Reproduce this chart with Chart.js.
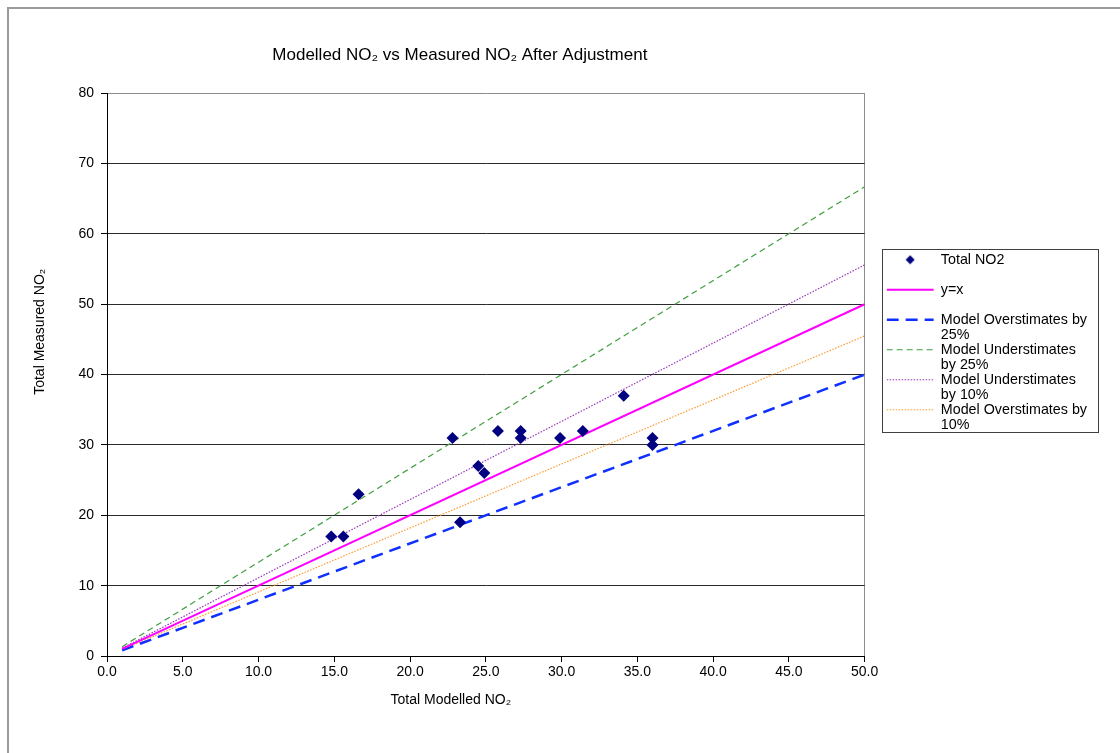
<!DOCTYPE html>
<html>
<head>
<meta charset="utf-8">
<title>Modelled NO2 vs Measured NO2 After Adjustment</title>
<script src="https://cdn.jsdelivr.net/npm/chart.js@4.4.0/dist/chart.umd.min.js"></script>
<style>
  html, body { margin: 0; padding: 0; background: #fff; }
  canvas { display: block; }
</style>
</head>
<body>
<canvas id="myChart" width="1120" height="753"></canvas>
<script>
// valores (um ponto por local de medicao)
var modelledNO2 = [14.8, 15.6, 16.6, 22.8, 23.3, 24.5, 24.9, 25.8, 27.3, 27.3, 29.9, 31.4, 34.1, 36.0, 36.0];
var measuredNO2 = [17, 17, 23, 31, 19, 27, 26, 32, 32, 31, 31, 32, 37, 31, 30];

// retas de referencia: inicio e fim de cada uma
var lineX = [1, 50];
var yEqualsX = [1, 50];
var over25 = [0.8, 40];
var under25 = [1.33, 66.7];
var under10 = [1.11, 55.6];
var over10 = [0.91, 45.5];

var seriesNames = ['Total NO2', 'y=x', 'Model Overstimates by 25%', 'Model Understimates by 25%', 'Model Understimates by 10%', 'Model Overstimates by 10%'];
// texto da legenda quebrado em linhas como no original
var legendLines = [
    ['Total NO2', ''],
    ['y=x', ''],
    ['Model Overstimates by', '25%'],
    ['Model Understimates', 'by 25%'],
    ['Model Understimates', 'by 10%'],
    ['Model Overstimates by', '10%']
];

var xTickLabels = ['0.0', '5.0', '10.0', '15.0', '20.0', '25.0', '30.0', '35.0', '40.0', '45.0', '50.0'];
var yTickLabels = ['0', '10', '20', '30', '40', '50', '60', '70', '80'];

var fonte = "'Liberation Sans', Arial, sans-serif";

function pares(xs, ys) {
    return xs.map(function (x, i) { return {x: x, y: ys[i]}; });
}

// losango pequeno para a legenda
var diamante = document.createElement('canvas');
diamante.width = 10;
diamante.height = 10;
var dc = diamante.getContext('2d');
dc.fillStyle = '#000080';
dc.beginPath();
dc.moveTo(5, 0.5); dc.lineTo(9.5, 5); dc.lineTo(5, 9.5); dc.lineTo(0.5, 5);
dc.closePath();
dc.fill();

// fundo branco e moldura cinza
var moldura = {
    id: 'moldura',
    beforeDraw: function (chart) {
        var c = chart.ctx;
        c.save();
        c.fillStyle = '#fff';
        c.fillRect(0, 0, chart.width, chart.height);
        c.strokeStyle = '#9a9a9a';
        c.lineWidth = 2;
        c.strokeRect(8, 8, chart.width + 20, chart.height + 20);
        c.restore();
    }
};

// caixa em volta da legenda
var caixaLegenda = {
    id: 'caixaLegenda',
    afterDraw: function (chart) {
        var lg = chart.legend;
        var c = chart.ctx;
        c.save();
        c.strokeStyle = '#404040';
        c.lineWidth = 1;
        c.strokeRect(Math.round(lg.left - 5) + 0.5, Math.round(lg.top + 156) + 0.5, 216, 183);
        c.restore();
    }
};

var data = {
    datasets: [{
        label: seriesNames[0],
        data: pares(modelledNO2, measuredNO2),
        showLine: false,
        pointStyle: 'rectRot',
        pointRadius: 6,
        backgroundColor: '#000080',
        borderColor: '#000080',
        borderWidth: 0
    }, {
        label: seriesNames[1],
        data: pares(lineX, yEqualsX),
        showLine: true,
        pointRadius: 0,
        borderColor: '#ff00ff',
        backgroundColor: '#ff00ff',
        borderWidth: 2
    }, {
        label: seriesNames[2],
        data: pares(lineX, over25),
        showLine: true,
        pointRadius: 0,
        borderColor: '#1030ff',
        backgroundColor: '#1030ff',
        borderWidth: 2.5,
        borderDash: [12, 7]
    }, {
        label: seriesNames[3],
        data: pares(lineX, under25),
        showLine: true,
        pointRadius: 0,
        borderColor: '#3f9f3f',
        backgroundColor: '#3f9f3f',
        borderWidth: 1.2,
        borderDash: [6, 4]
    }, {
        label: seriesNames[4],
        data: pares(lineX, under10),
        showLine: true,
        pointRadius: 0,
        borderColor: '#9933bb',
        backgroundColor: '#9933bb',
        borderWidth: 1.2,
        borderDash: [1.5, 1.5]
    }, {
        label: seriesNames[5],
        data: pares(lineX, over10),
        showLine: true,
        pointRadius: 0,
        borderColor: '#ff9933',
        backgroundColor: '#ff9933',
        borderWidth: 1.2,
        borderDash: [1.5, 1.5]
    }]
};

var config = {
    type: 'scatter',
    data: data,
    options: {
        responsive: false,
        animation: false,
        devicePixelRatio: 1,
        layout: {padding: {left: 0, right: 23, top: 0, bottom: 0}},
        plugins: {
            title: {
                display: true,
                fullSize: false,
                text: 'Modelled NO\u2082 vs Measured NO\u2082 After Adjustment' + '           ',
                color: '#000',
                font: {family: fonte, size: 17, weight: 'normal', lineHeight: 1.2},
                padding: {top: 45, bottom: 27.8}
            },
            // so um espaco vazio entre o grafico e a legenda
            subtitle: {
                display: true,
                position: 'right',
                weight: 500,
                text: '',
                font: {size: 10, lineHeight: 1},
                padding: {top: 12, bottom: 0}
            },
            legend: {
                display: true,
                position: 'right',
                align: 'start',
                fullSize: false,
                maxWidth: 211,
                title: {display: true, text: '', padding: {top: 145, bottom: 0}},
                labels: {
                    usePointStyle: true,
                    pointStyleWidth: 47,
                    padding: 0,
                    color: '#000',
                    font: {family: fonte, size: 14.3, lineHeight: '15px'},
                    generateLabels: function (chart) {
                        return chart.data.datasets.map(function (ds, i) {
                            return {
                                text: legendLines[i],
                                fillStyle: ds.backgroundColor,
                                strokeStyle: ds.borderColor,
                                fontColor: '#000',
                                lineWidth: ds.borderWidth,
                                lineDash: ds.borderDash || [],
                                lineCap: 'butt',
                                pointStyle: i === 0 ? diamante : 'line',
                                rotation: 0,
                                hidden: false,
                                datasetIndex: i
                            };
                        });
                    }
                }
            },
            tooltip: {enabled: false}
        },
        scales: {
            x: {
                type: 'linear',
                position: 'bottom',
                min: 0,
                max: 50,
                afterBuildTicks: function (scale) {
                    scale.ticks = xTickLabels.map(function (t) { return {value: parseFloat(t)}; });
                },
                afterFit: function (scale) { scale.height = 97; },
                ticks: {
                    callback: function (v, i) { return xTickLabels[i]; },
                    color: '#000',
                    font: {family: fonte, size: 14},
                    padding: 2,
                    maxRotation: 0,
                    autoSkip: false
                },
                grid: {
                    drawOnChartArea: true,
                    color: function (c) { return c.tick && c.tick.value === 50 ? '#8c8c8c' : 'rgba(0,0,0,0)'; },
                    tickColor: '#000',
                    tickLength: 6
                },
                border: {color: '#000', width: 1},
                title: {
                    display: true,
                    text: 'Total Modelled NO\u2082' + '                  ',
                    color: '#000',
                    font: {family: fonte, size: 14, lineHeight: 1.2},
                    padding: {top: 0, bottom: 44.6}
                }
            },
            y: {
                type: 'linear',
                min: 0,
                max: 80,
                afterBuildTicks: function (scale) {
                    scale.ticks = yTickLabels.map(function (t) { return {value: parseFloat(t)}; });
                },
                afterFit: function (scale) { scale.width = 107; },
                ticks: {
                    callback: function (v, i) { return yTickLabels[i]; },
                    color: '#000',
                    font: {family: fonte, size: 14},
                    padding: 7
                },
                grid: {
                    color: function (c) { return c.tick && c.tick.value === 80 ? '#8c8c8c' : '#2a2a2a'; },
                    tickColor: '#000',
                    tickLength: 6
                },
                border: {color: '#000', width: 1},
                title: {
                    display: true,
                    text: '                      ' + 'Total Measured NO\u2082',
                    color: '#000',
                    font: {family: fonte, size: 14, lineHeight: 1.2},
                    padding: {top: 31.6, bottom: 0}
                }
            }
        }
    },
    plugins: [moldura, caixaLegenda]
};

var myChart = new Chart(document.getElementById('myChart'), config);
</script>
</body>
</html>
